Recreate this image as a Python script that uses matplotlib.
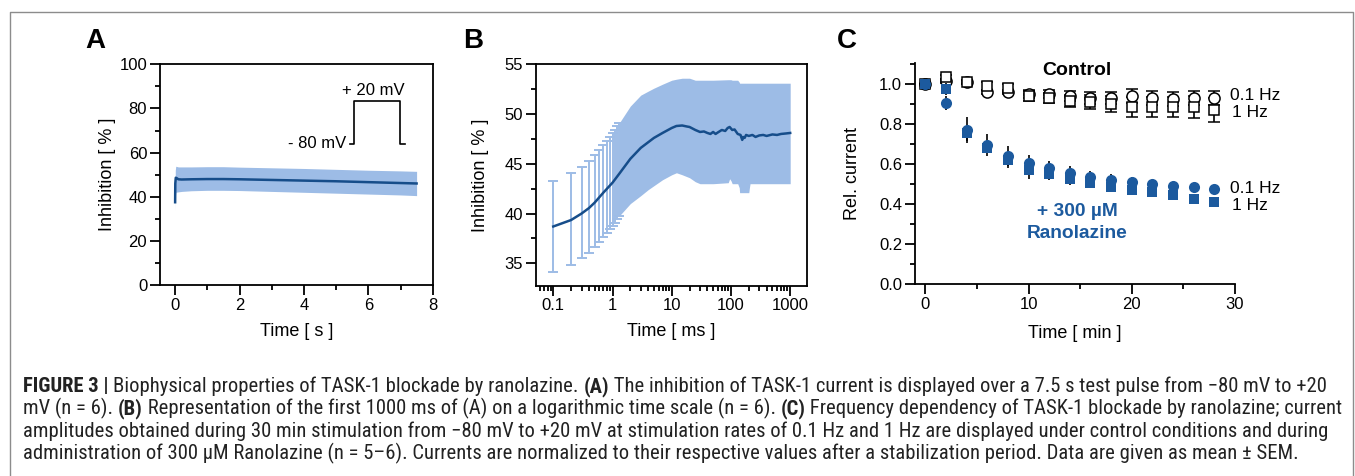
import matplotlib
matplotlib.use("Agg")
import matplotlib.pyplot as plt
from matplotlib import font_manager
from matplotlib.font_manager import FontProperties
from matplotlib.ticker import MultipleLocator, FixedLocator, LogLocator, NullFormatter, FormatStrFormatter
from matplotlib.lines import Line2D

# ---------------- data ----------------
# Panel A: inhibition over the 7.5 s pulse
a_time = [0.0, 0.005, 0.02, 0.05, 0.1, 0.2, 0.5, 1.0, 1.5, 2.0, 3.0, 4.0, 5.0, 6.0, 7.0, 7.5]
a_mean = [37.5, 46.0, 48.6, 48.4, 47.9, 47.8, 47.9, 48.0, 48.0, 47.9, 47.6, 47.3, 47.0, 46.6, 46.2, 46.0]
a_upper = [40.0, 52.0, 53.8, 53.7, 53.5, 53.5, 53.5, 53.6, 53.6, 53.4, 53.1, 52.8, 52.4, 52.0, 51.7, 51.5]
a_lower = [33.5, 40.0, 42.0, 42.1, 42.2, 42.4, 42.7, 42.9, 42.9, 42.8, 42.4, 42.0, 41.6, 41.2, 40.8, 40.5]
pulse_t = [5.43, 5.56, 5.56, 6.99, 6.99, 7.14]
pulse_v = [64.0, 64.0, 83.4, 83.4, 64.0, 64.0]

# Panel B: first 1000 ms on log scale
b_eb_t = [0.1, 0.2, 0.3, 0.4, 0.5, 0.6, 0.7, 0.8, 0.9, 1.0, 1.1, 1.2, 1.3]
b_eb_hi = [43.27, 44.08, 44.72, 45.28, 45.9, 46.39, 46.9, 47.29, 47.7, 48.07, 48.43, 48.77, 49.1]
b_eb_lo = [34.13, 34.83, 35.5, 36.04, 36.64, 37.14, 37.61, 38.02, 38.4, 38.75, 39.09, 39.42, 39.76]
b_band_t = [1.3, 2, 3, 4, 5, 7, 10, 12, 15, 20, 25, 30, 50, 90, 95, 100, 105, 130, 138, 140, 200, 205, 210, 500, 1000]
b_band_hi = [49.1, 50.8, 51.9, 52.3, 52.6, 53.0, 53.4, 53.5, 53.6, 53.6, 53.4, 53.4, 53.4, 53.45, 53.45, 53.45, 53.4, 53.4, 53.2, 53.1, 53.1, 53.1, 53.1, 53.1, 53.1]
b_band_lo = [39.76, 41.0, 41.8, 42.4, 42.8, 43.4, 43.9, 44.1, 43.9, 43.6, 43.2, 43.0, 43.0, 43.1, 43.5, 43.3, 43.0, 43.0, 42.6, 42.1, 42.1, 42.6, 43.0, 43.0, 43.0]
b_line_t = [0.1, 0.2, 0.3, 0.4, 0.5, 0.7, 1.0, 1.3, 2, 3, 5, 7, 10, 12, 15, 18, 20, 25, 30, 35, 40, 45, 50, 55, 60, 70, 80, 88, 95, 105, 115, 130, 145, 155, 160, 170, 180, 200, 230, 260, 300, 350, 400, 500, 600, 700, 850, 1000]
b_line_m = [38.7, 39.35, 40.0, 40.55, 41.1, 42.1, 43.1, 44.0, 45.5, 46.6, 47.6, 48.1, 48.6, 48.8, 48.85, 48.75, 48.7, 48.4, 48.2, 48.25, 48.1, 48.0, 48.2, 48.0, 48.15, 48.4, 48.3, 48.6, 48.7, 48.4, 48.45, 48.0, 47.9, 47.4, 47.7, 47.6, 47.9, 47.8, 47.9, 47.7, 47.85, 47.9, 47.8, 47.95, 47.9, 48.0, 48.05, 48.1]

# Panel C: relative current over time
c_time = [0, 2, 4, 6, 8, 10, 12, 14, 16, 18, 20, 22, 24, 26, 28]
ctrl_01 = [1.0, 1.015, 1.01, 0.96, 0.96, 0.95, 0.95, 0.94, 0.93, 0.93, 0.94, 0.93, 0.925, 0.93, 0.93]
ctrl_01_sem = [0.0, 0.01, 0.01, 0.01, 0.01, 0.02, 0.02, 0.025, 0.03, 0.03, 0.035, 0.035, 0.035, 0.035, 0.035]
ctrl_1 = [1.0, 1.035, 1.01, 0.99, 0.98, 0.94, 0.93, 0.915, 0.91, 0.90, 0.885, 0.885, 0.885, 0.885, 0.87]
ctrl_1_sem = [0.0, 0.01, 0.01, 0.02, 0.02, 0.025, 0.025, 0.03, 0.035, 0.04, 0.05, 0.05, 0.05, 0.055, 0.06]
rano_01 = [1.0, 0.905, 0.77, 0.695, 0.64, 0.607, 0.578, 0.553, 0.537, 0.52, 0.51, 0.50, 0.49, 0.483, 0.475]
rano_01_sem = [0.0, 0.035, 0.065, 0.055, 0.05, 0.04, 0.035, 0.035, 0.03, 0.03, 0.025, 0.02, 0.02, 0.02, 0.02]
rano_1 = [1.0, 0.975, 0.757, 0.68, 0.62, 0.57, 0.55, 0.523, 0.503, 0.487, 0.47, 0.462, 0.445, 0.423, 0.412]
rano_1_sem = [0.0, 0.03, 0.04, 0.02, 0.04, 0.045, 0.03, 0.03, 0.025, 0.025, 0.02, 0.02, 0.015, 0.01, 0.01]

# ---------------- style ----------------
W, H = 1355, 476
BAND = "#9dbce6"
NAVY = "#164d8a"
BLUE = "#1c5a9e"
plt.rcParams["font.family"] = ["Liberation Sans", "DejaVu Sans"]
plt.rcParams["axes.linewidth"] = 1.3
TICK_FS = 12
LAB_FS = 13

fig = plt.figure(figsize=(W / 100, H / 100), dpi=100)


def ax_px(l, t, r, b):
    return fig.add_axes([l / W, 1 - b / H, (r - l) / W, (b - t) / H])


def style(ax):
    ax.tick_params(which="major", direction="out", length=7.2, width=1.3, labelsize=TICK_FS, pad=2,
                   top=False, right=False)
    ax.tick_params(which="minor", direction="out", length=3.6, width=1.3, top=False, right=False)
    for s in ax.spines.values():
        s.set_color("black")


def place_labels(ax, xlabel, ylabel, w_px, h_px, ylab_dx, xlab_dy):
    ax.set_xlabel(xlabel, fontsize=LAB_FS)
    ax.set_ylabel(ylabel, fontsize=LAB_FS)
    ax.xaxis.set_label_coords(0.5, -xlab_dy / h_px)
    ax.xaxis.label.set_va("center")
    ax.yaxis.set_label_coords(-ylab_dx / w_px, 0.5)
    ax.yaxis.label.set_va("center")


# ---------------- Panel A ----------------
axA = ax_px(160, 64.3, 432.7, 285)
axA.fill_between(a_time, a_lower, a_upper, color=BAND, lw=0)
axA.plot(a_time, a_mean, color=NAVY, lw=1.8)
axA.plot(pulse_t, pulse_v, color="black", lw=1.2)
axA.text(5.30, 64.0, "- 80 mV", ha="right", va="center", fontsize=12)
axA.text(6.17, 88.3, "+ 20 mV", ha="center", va="center", fontsize=12)
axA.set_xlim(-0.47, 8)
axA.set_ylim(0, 100)
axA.xaxis.set_major_locator(MultipleLocator(2))
axA.xaxis.set_minor_locator(MultipleLocator(1))
axA.yaxis.set_major_locator(MultipleLocator(20))
axA.yaxis.set_minor_locator(MultipleLocator(10))
style(axA)
place_labels(axA, "Time [ s ]", "Inhibition [ % ]", 272.7, 220.7, 53, 46.7)

# ---------------- Panel B ----------------
axB = ax_px(535.7, 64.3, 806.7, 285.7)
axB.fill_between(b_band_t, b_band_lo, b_band_hi, color=BAND, lw=0)
eb_mid = [(h + l) / 2 for h, l in zip(b_eb_hi, b_eb_lo)]
eb_err = [[m - l for m, l in zip(eb_mid, b_eb_lo)], [h - m for h, m in zip(b_eb_hi, eb_mid)]]
axB.errorbar(b_eb_t, eb_mid, yerr=eb_err, fmt="none", ecolor=BAND, elinewidth=1.4, capsize=3.6, capthick=1.4)
axB.plot(b_line_t, b_line_m, color=NAVY, lw=1.8)
axB.set_xscale("log")
axB.set_xlim(0.0505, 1900)
axB.set_ylim(32.75, 55)
axB.xaxis.set_major_locator(FixedLocator([0.1, 1, 10, 100, 1000]))
axB.set_xticklabels(["0.1", "1", "10", "100", "1000"])
axB.xaxis.set_minor_locator(LogLocator(base=10, subs=[2, 3, 4, 5, 6, 7, 8, 9], numticks=20))
axB.xaxis.set_minor_formatter(NullFormatter())
axB.yaxis.set_major_locator(MultipleLocator(5))
axB.yaxis.set_minor_locator(MultipleLocator(2.5))
style(axB)
place_labels(axB, "Time [ ms ]", "Inhibition [ % ]", 271.0, 221.4, 55, 46)

# ---------------- Panel C ----------------
axC = ax_px(915, 63, 1235, 284)
axC.spines["top"].set_visible(False)
axC.spines["right"].set_visible(False)
ms = 8.0
ekw = dict(ecolor="black", elinewidth=1.2, capsize=4.5, capthick=1.2)
axC.errorbar(c_time, ctrl_01, yerr=ctrl_01_sem, fmt="o", ms=ms, mfc="white", mec="black", mew=1.1, zorder=3, **ekw)
axC.errorbar(c_time, ctrl_1, yerr=ctrl_1_sem, fmt="s", ms=ms - 0.6, mfc="white", mec="black", mew=1.1, zorder=3, **ekw)
axC.errorbar(c_time, rano_01, yerr=rano_01_sem, fmt="o", ms=ms, mfc=BLUE, mec=BLUE, mew=0, zorder=4, **ekw)
axC.errorbar(c_time, rano_1, yerr=rano_1_sem, fmt="s", ms=ms - 0.6, mfc=BLUE, mec=BLUE, mew=0, zorder=4, **ekw)
axC.set_xlim(-1, 30)
axC.set_ylim(0, 1.105)
axC.xaxis.set_major_locator(MultipleLocator(10))
axC.xaxis.set_minor_locator(MultipleLocator(5))
axC.yaxis.set_major_locator(MultipleLocator(0.2))
axC.yaxis.set_minor_locator(MultipleLocator(0.1))
axC.yaxis.set_major_formatter(FormatStrFormatter("%.1f"))
style(axC)
place_labels(axC, "Time [ min ]", "Rel. current", 320.0, 221.0, 62, 49)
hz_fs = 12.5
axC.text(29.5, 0.94, "0.1 Hz", ha="left", va="center", fontsize=hz_fs, clip_on=False)
axC.text(29.7, 0.858, "1 Hz", ha="left", va="center", fontsize=hz_fs, clip_on=False)
axC.text(29.5, 0.478, "0.1 Hz", ha="left", va="center", fontsize=hz_fs, clip_on=False)
axC.text(29.7, 0.395, "1 Hz", ha="left", va="center", fontsize=hz_fs, clip_on=False)
axC.text(14.7, 1.067, "Control", ha="center", va="center", fontsize=14, fontweight="bold", clip_on=False)
axC.text(14.7, 0.36, "+ 300 µM", ha="center", va="center", fontsize=13.8, fontweight="bold", color=BLUE)
axC.text(14.7, 0.253, "Ranolazine", ha="center", va="center", fontsize=13.8, fontweight="bold", color=BLUE)

# ---------------- panel letters ----------------
for lx, lt in [(95, "A"), (473, "B"), (847, "C")]:
    fig.text(lx / W, 1 - 41 / H, lt, ha="center", va="center", fontsize=20, fontweight="bold")

# ---------------- border ----------------
bc = "#8c8c8c"
fig.add_artist(Line2D([9.5 / W, 9.5 / W, 1352.5 / W, 1352.5 / W], [0, 1 - 11.5 / H, 1 - 11.5 / H, 0],
                      transform=fig.transFigure, color=bc, lw=1.0))

# ---------------- caption ----------------
def find_font_files():
    reg, bold = None, None
    prefs = ["Liberation Sans Narrow", "Roboto Condensed", "Open Sans Condensed", "Noto Sans",
             "DejaVu Sans", "Roboto", "Open Sans", "Inter", "Lato"]
    cands = [f for f in font_manager.fontManager.ttflist
             if ("narrow" in f.fname.lower() or "condensed" in f.fname.lower()
                 or "narrow" in f.name.lower() or "condensed" in f.name.lower()
                 or str(f.stretch).lower() in ("condensed", "semi-condensed", "extra-condensed"))
             and str(f.style) == "normal"]
    for p in prefs:
        fs = [f for f in cands if f.name.startswith(p) or p.replace(" ", "") in f.fname.replace(" ", "")]
        if not fs:
            continue
        r = [f for f in fs if f.weight in (400, "normal", "regular")]
        b = [f for f in fs if f.weight in (700, "bold")]
        if r:
            reg = r[0].fname
            bold = b[0].fname if b else None
            break
    return reg, bold


reg_file, bold_file = find_font_files()
if reg_file:
    FP_REG = FontProperties(fname=reg_file)
    FP_BOLD = FontProperties(fname=bold_file) if bold_file else FontProperties(fname=reg_file, weight="bold")
else:
    FP_REG = FontProperties(family="Liberation Sans")
    FP_BOLD = FontProperties(family="Liberation Sans", weight="bold")

caption = [
    [("FIGURE 3 | ", True), ("Biophysical properties of TASK-1 blockade by ranolazine. ", False), ("(A)", True),
     (" The inhibition of TASK-1 current is displayed over a 7.5 s test pulse from \u221280 mV to +20", False)],
    [("mV (n = 6). ", False), ("(B)", True),
     (" Representation of the first 1000 ms of (A) on a logarithmic time scale (n = 6). ", False), ("(C)", True),
     (" Frequency dependency of TASK-1 blockade by ranolazine; current", False)],
    [("amplitudes obtained during 30 min stimulation from \u221280 mV to +20 mV at stimulation rates of 0.1 Hz and 1 Hz are displayed under control conditions and during", False)],
    [("administration of 300 \u00b5M Ranolazine (n = 5\u20136). Currents are normalized to their respective values after a stabilization period. Data are given as mean \u00b1 SEM.", False)],
]
baselines = [392, 414.5, 437, 459.5]
renderer = fig.canvas.get_renderer()


def seg_width(txt, bold, fs):
    fp = (FP_BOLD if bold else FP_REG).copy()
    fp.set_size(fs)
    t1 = fig.text(0, 0, "x" + txt + "x", fontproperties=fp)
    t2 = fig.text(0, 0, "xx", fontproperties=fp)
    w = t1.get_window_extent(renderer).width - t2.get_window_extent(renderer).width
    t1.remove()
    t2.remove()
    return w


base_fs = 10
w0 = sum(seg_width(t, b, base_fs) for t, b in caption[0])
cap_fs = base_fs * (1320 - 23) / w0

for line, yb in zip(caption, baselines):
    x = 23.0
    for txt, bold in line:
        fp = (FP_BOLD if bold else FP_REG).copy()
        fp.set_size(cap_fs)
        fig.text(x / W, 1 - yb / H, txt, fontproperties=fp, va="baseline", ha="left", color="#222222")
        x += seg_width(txt, bold, cap_fs)

fig.savefig("out.png", dpi=100)
